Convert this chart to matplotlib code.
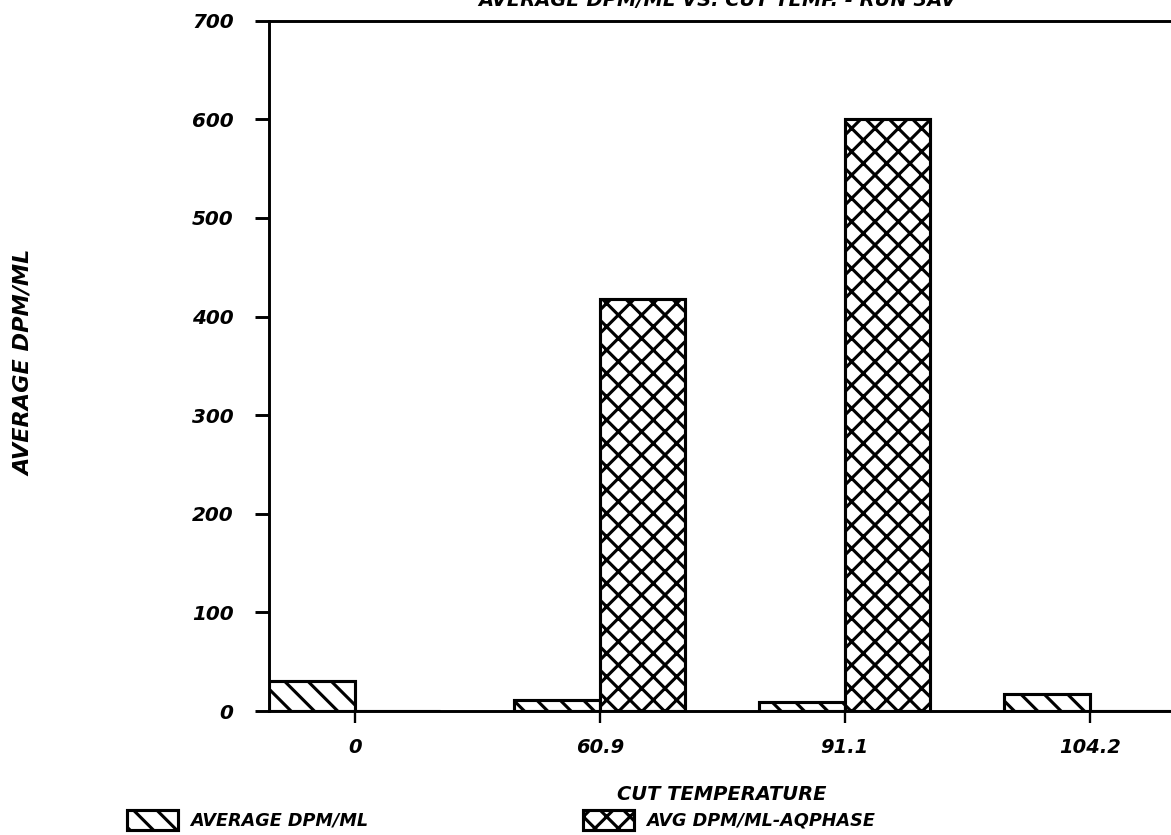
import numpy as np
import matplotlib
matplotlib.use("Agg")
import matplotlib.pyplot as plt
from matplotlib.patches import Patch

# dati
temps = ["0", "60.9", "91.1", "104.2"]
avg_dpm = [30, 11, 9, 17]
avg_dpm_aq = [0, 418, 600, 0]
y_ticks = [0, 100, 200, 300, 400, 500, 600, 700]

DPI = 140
plt.rcParams["font.family"] = "DejaVu Sans"
plt.rcParams["font.weight"] = "bold"
plt.rcParams["font.style"] = "oblique"
plt.rcParams["hatch.linewidth"] = 1.6
plt.rcParams["hatch.color"] = "black"

fig = plt.figure(figsize=(1171 / DPI, 835 / DPI), dpi=DPI)
ax = fig.add_axes([0.2297, 0.1485, 0.7741, 0.8267])

x = np.arange(len(temps))
w = 0.35
hatch_avg = "\\\\"
hatch_aq = "xx"

ax.bar(x - w / 2, avg_dpm, w, facecolor="white", edgecolor="black",
       linewidth=1.6, hatch=hatch_avg)
ax.bar(x + w / 2, avg_dpm_aq, w, facecolor="white", edgecolor="black",
       linewidth=1.6, hatch=hatch_aq)

ax.set_xlim(-w, 3 + w)
ax.set_ylim(0, 700)
ax.set_xticks(x)
ax.set_xticklabels(temps)
ax.set_yticks(y_ticks)

for side in ["left", "top", "bottom"]:
    ax.spines[side].set_linewidth(1.5)
ax.spines["right"].set_visible(False)

ax.tick_params(axis="y", direction="out", length=7.2, width=1.5, pad=11,
               labelsize=10.3)
ax.tick_params(axis="x", direction="out", length=6.2, width=1.2, pad=7.5,
               labelsize=10)

# titolo tagliato in alto come sul foglio originale
fig.text(0.6123, 0.9928, "AVERAGE DPM/ML VS. CUT TEMP. - RUN 3AV",
         ha="center", va="baseline", fontsize=10)
fig.text(0.6167, 0.0419, "CUT TEMPERATURE", ha="center", va="baseline",
         fontsize=10)
fig.text(0.0205, 0.565, "AVERAGE DPM/ML", rotation=90, ha="center",
         va="center", fontsize=11.5)

# legenda in due pezzi separati sotto il grafico
leg_kw = dict(loc="lower left", frameon=False, fontsize=9.1,
              handlelength=2.88, handleheight=1.3, handletextpad=0.68,
              borderpad=0, borderaxespad=0)
h1 = Patch(facecolor="white", edgecolor="black", linewidth=1.6, hatch=hatch_avg)
h2 = Patch(facecolor="white", edgecolor="black", linewidth=1.6, hatch=hatch_aq)
fig.legend(handles=[h1], labels=["AVERAGE DPM/ML"],
           bbox_to_anchor=(0.1085, 0.006), **leg_kw)
fig.legend(handles=[h2], labels=["AVG DPM/ML-AQPHASE"],
           bbox_to_anchor=(0.4979, 0.006), **leg_kw)

fig.savefig("out.png", dpi=DPI)
plt.close(fig)
